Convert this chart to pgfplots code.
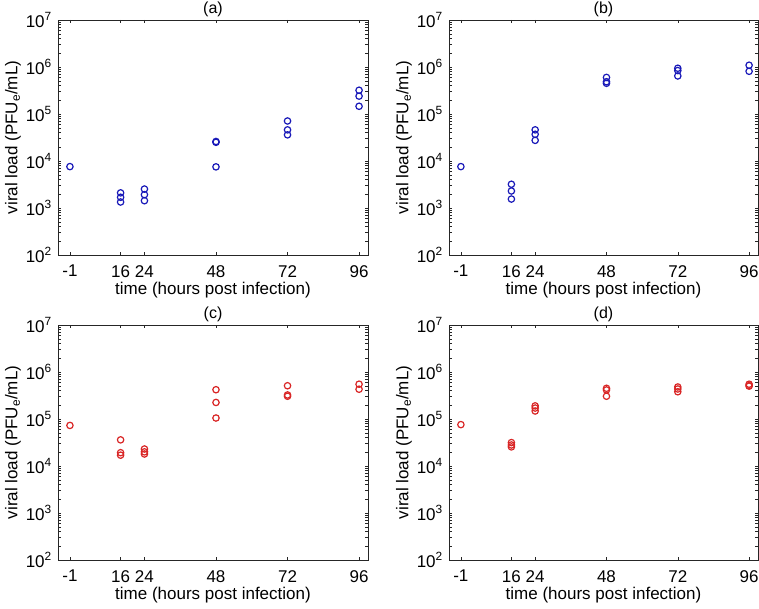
\documentclass[border=0pt]{standalone}
\usepackage{fontspec}
\setmainfont{Liberation Sans}
\usepackage{pgfplots}
\pgfplotsset{compat=1.18}

\definecolor{axgray}{rgb}{0.15,0.15,0.15}
\definecolor{ptblue}{rgb}{0.1,0.1,0.72}
\definecolor{ptred}{rgb}{0.85,0.15,0.15}

\newcommand{\lbl}{\fontsize{17}{19}\selectfont}

\pgfplotsset{
  vlpanel/.style={
    scale only axis,
    width=310pt, height=235pt,
    anchor=south west,
    xmin=-5, xmax=99,
    ymin=1e2, ymax=1e7,
    xtick={-1,16,24,48,72,96},
    xticklabels={-1,16,24,48,72,96},
    ytick={1e2,1e3,1e4,1e5,1e6,1e7},
    yticklabels={10\textsuperscript{2},10\textsuperscript{3},10\textsuperscript{4},10\textsuperscript{5},10\textsuperscript{6},10\textsuperscript{7}},
    minor tick num=0,
    tick align=inside,
    major tick length=3pt,
    every tick/.style={axgray, line width=0.5pt},
    axis line style={axgray, line width=0.5pt},
    ticklabel style={font=\lbl, text=black, inner sep=0pt},
    xticklabel style={anchor=north, yshift=-10pt},
    yticklabel style={anchor=east, xshift=-6pt},
    xlabel={time (hours post infection)},
    ylabel={viral load (PFU\textsubscript{e}/mL)},
    label style={font=\lbl, inner sep=0pt},
    xlabel style={at={(axis description cs:0.5,0)}, anchor=north, yshift=-27pt},
    ylabel style={at={(axis description cs:0,0.5)}, anchor=south, yshift=37pt},
    title style={font=\fontsize{16}{18}\selectfont, at={(axis description cs:0.5,1)}, anchor=south, inner sep=0pt, yshift=-3pt},
  },
  bluept/.style={only marks, mark=o, mark size=3.2pt, line width=1.2pt, color=ptblue},
  redpt/.style={only marks, mark=o, mark size=3.2pt, line width=1.2pt, color=ptred},
}

\begin{document}
\begin{tikzpicture}
\useasboundingbox (0pt,0pt) rectangle (759pt,608pt);

% (a)
\begin{axis}[ymode=log, vlpanel, at={(58pt,353pt)}, title={(a)}]
\addplot[bluept] coordinates {
  (-1,7600)
  (16,2100) (16,1690) (16,1340)
  (24,2530) (24,1920) (24,1430)
  (48,26000) (48,25000) (48,7500)
  (72,71000) (72,46000) (72,36000)
  (96,320000) (96,240000) (96,146000)
};
\end{axis}

% (b)
\begin{axis}[ymode=log, vlpanel, at={(449pt,353pt)}, width=309pt, title={(b)}]
\addplot[bluept] coordinates {
  (-1,7600)
  (16,3200) (16,2300) (16,1550)
  (24,46000) (24,37000) (24,27500)
  (48,600000) (48,485000) (48,450000)
  (72,940000) (72,840000) (72,645000)
  (96,1090000) (96,810000)
};
\end{axis}

% (c)
\begin{axis}[ymode=log, vlpanel, at={(58pt,48pt)}, title={(c)}]
\addplot[redpt] coordinates {
  (-1,73000)
  (16,36000) (16,19200) (16,17000)
  (24,23000) (24,20000) (24,18000)
  (48,420000) (48,225000) (48,105000)
  (72,510000) (72,325000) (72,305000)
  (96,550000) (96,430000)
};
\end{axis}

% (d)
\begin{axis}[ymode=log, vlpanel, at={(449pt,48pt)}, width=309pt, title={(d)}]
\addplot[redpt] coordinates {
  (-1,76000)
  (16,31500) (16,28000) (16,25500)
  (24,190000) (24,171000) (24,148000)
  (48,450000) (48,415000) (48,305000)
  (72,480000) (72,435000) (72,380000)
  (96,550000) (96,515000) (96,500000)
};
\end{axis}
\end{tikzpicture}
\end{document}
